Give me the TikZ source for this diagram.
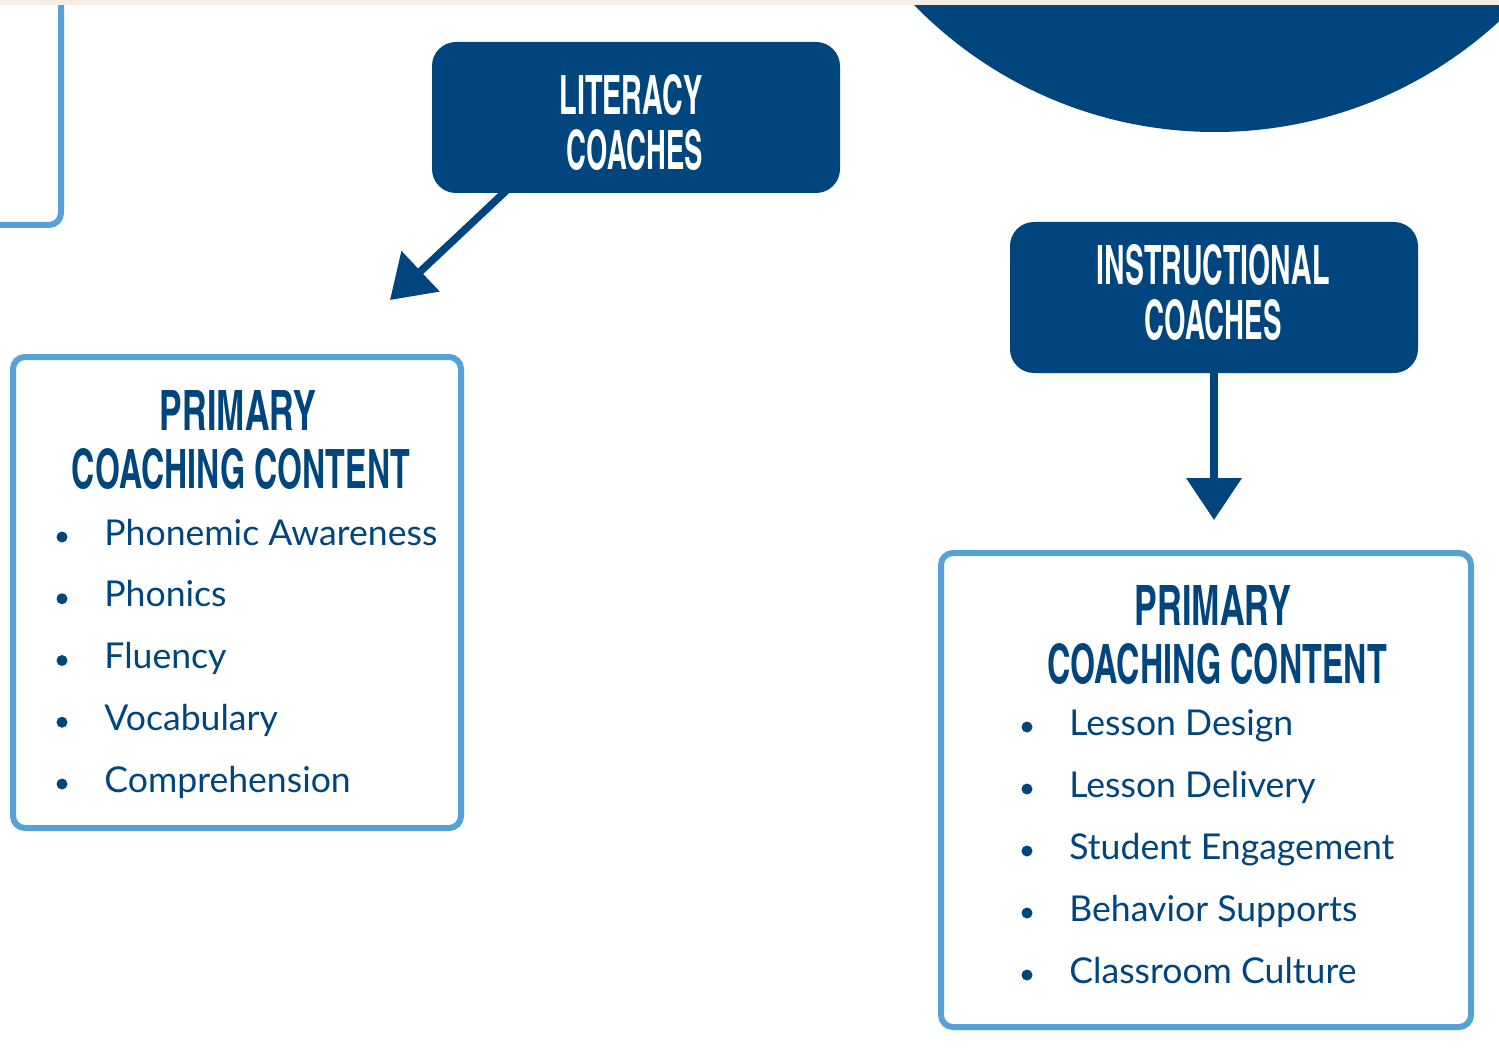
\documentclass[tikz,border=0pt]{standalone}
\usepackage{fontspec}
\setmainfont{Lato}
\newfontfamily\headfont{texgyreheroscn-bold.otf}
\usepackage{graphicx}
\usetikzlibrary{arrows.meta}
\definecolor{navy}{RGB}{0,69,125}
\definecolor{skyline}{RGB}{86,161,214}
\definecolor{paper}{RGB}{246,238,226}
\tikzset{>={Triangle[length=21pt,width=27pt]}}
\tikzstyle{coachbox} = [fill=navy, rounded corners=12pt,
    minimum width=204pt, minimum height=75.5pt, inner sep=0pt]
\tikzstyle{contentbox} = [draw=skyline, line width=3pt,
    rounded corners=6pt, inner sep=0pt]
\tikzstyle{heading} = [anchor=base, inner sep=0pt, text=navy]
\tikzstyle{entry} = [anchor=base west, inner sep=0pt, text=navy,
    font=\fontsize{17.8}{21}\selectfont]
\tikzstyle{dot} = [circle, fill=navy, minimum size=5.5pt, inner sep=0pt]
\tikzstyle{flow} = [->, navy, line width=3.75pt]
\newcommand{\headfit}[2]{\resizebox{#1}{20pt}{\headfont #2}}

\begin{document}
\begin{tikzpicture}[x=0.5pt, y=-0.5pt]
\useasboundingbox (0,0) rectangle (1499,1059);
\clip (0,0) rectangle (1499,1059);
    % pieces cut off by the page
    \fill[navy] (1215,-288) circle[radius=210pt];
    \draw[skyline, line width=3pt, rounded corners=6pt] (-40,-40) rectangle (61,225);
    \fill[paper] (0,0) rectangle (1499,5);
    % coach boxes
    \node[coachbox] (lit) at (636,117.5) {};
    \node[heading, text=white] (littop) at (631,115) {\headfit{71.5pt}{LITERACY}};
    \node[heading, text=white] (litbot) at (635,170) {\headfit{68pt}{COACHES}};
    \node[coachbox] (ins) at (1214,297.5) {};
    \node[heading, text=white] (instop) at (1213,285) {\headfit{116.5pt}{INSTRUCTIONAL}};
    \node[heading, text=white] (insbot) at (1213,340) {\headfit{68.5pt}{COACHES}};
    % arrows
    \coordinate (littip) at (390,300);
    \coordinate (instip) at (1214,520);
    \draw[flow] ([xshift=38pt, yshift=2pt]lit.south west) -- (littip);
    \draw[flow] ([yshift=2pt]ins.south) -- (instip);
    % content boxes
    \node[contentbox, minimum width=224pt, minimum height=235.5pt] (litlist) at (237,592.5) {};
    \node[heading] (lithead1) at (238,430) {\headfit{78pt}{PRIMARY}};
    \node[heading] (lithead2) at (241,488) {\headfit{169pt}{COACHING CONTENT}};
    \foreach \entrytext [count=\i] in {Phonemic Awareness, Phonics, Fluency, Vocabulary, Comprehension} {
        \node[dot] (litdot\i) at (62,{537+61.75*(\i-1)}) {};
        \node[entry] (litentry\i) at (104,{545+61.75*(\i-1)}) {\entrytext};
    }
    \node[contentbox, minimum width=265pt, minimum height=237pt] (inslist) at (1206,790) {};
    \node[heading] (inshead1) at (1213,625) {\headfit{78.5pt}{PRIMARY}};
    \node[heading] (inshead2) at (1217,683) {\headfit{170pt}{COACHING CONTENT}};
    \foreach \entrytext [count=\i] in {Lesson Design, Lesson Delivery, Student Engagement, Behavior Supports, Classroom Culture} {
        \node[dot] (insdot\i) at (1027,{727+62*(\i-1)}) {};
        \node[entry] (insentry\i) at (1069,{735+62*(\i-1)}) {\entrytext};
    }
\end{tikzpicture}
\end{document}
